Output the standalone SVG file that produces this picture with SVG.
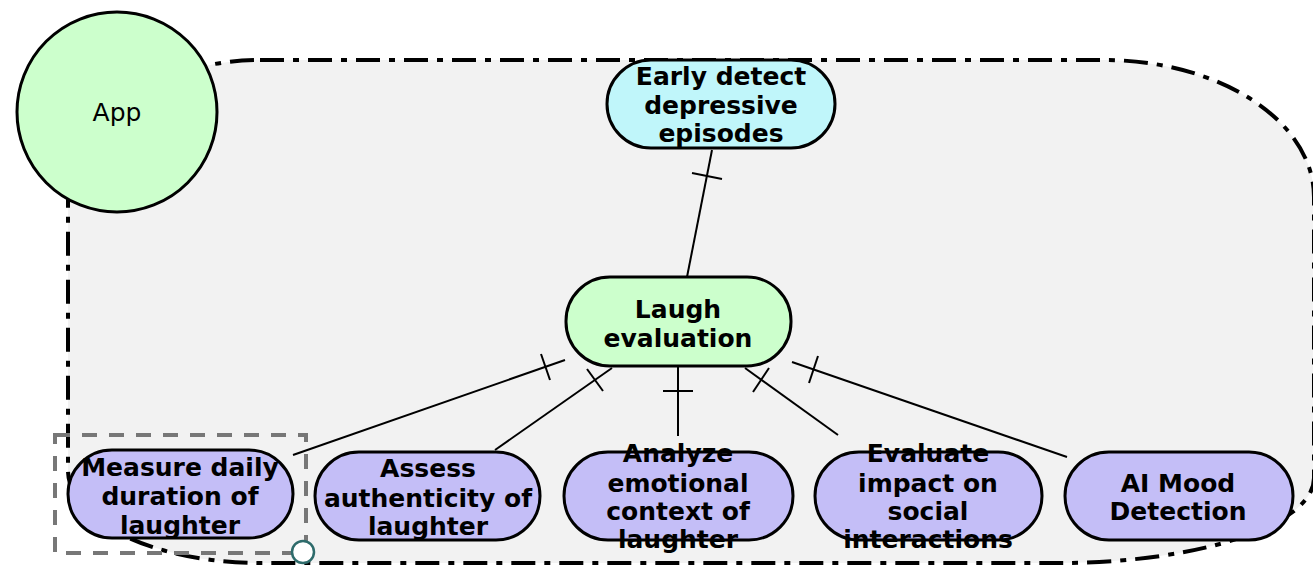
<svg xmlns="http://www.w3.org/2000/svg" width="1313" height="566" viewBox="0 0 1313 566">
<style>
.lbl{font-family:"DejaVu Sans",Verdana,sans-serif;font-weight:bold;font-size:25px;fill:#000;text-anchor:middle}
.node{stroke:#000;stroke-width:3}
.edge{stroke:#000;stroke-width:2;fill:none}
</style>
<rect width="1313" height="566" fill="#fff"/>
<g id="container">
<path d="M 260,60 H 1104 A 210 137 0 0 1 1314,197 V 478 A 255 85 0 0 1 1059,563 H 260 A 192 93 0 0 1 68,470 V 200 A 192 140 0 0 1 260,60 Z" fill="#f2f2f2" stroke="#000" stroke-width="4" stroke-dasharray="24 9 6 9"/>
</g>
<g id="app">
<circle cx="117" cy="112" r="100" fill="#ccffcc" stroke="#000" stroke-width="3"/>
<text x="117" y="121" font-family="DejaVu Sans,Verdana,sans-serif" font-size="25" text-anchor="middle" fill="#000">App</text>
</g>
<g id="connectors">
<line class="edge" x1="712" y1="150" x2="687" y2="277"/>
<line class="edge" x1="692" y1="173" x2="722" y2="179"/>
<line class="edge" x1="565" y1="360" x2="293" y2="455"/>
<line class="edge" x1="541" y1="354" x2="550" y2="380"/>
<line class="edge" x1="612" y1="368" x2="495" y2="450"/>
<line class="edge" x1="587" y1="369" x2="603" y2="391"/>
<line class="edge" x1="678" y1="367" x2="678" y2="436"/>
<line class="edge" x1="663" y1="391" x2="693" y2="391"/>
<line class="edge" x1="745" y1="368" x2="838" y2="435"/>
<line class="edge" x1="753" y1="392" x2="769" y2="368"/>
<line class="edge" x1="792" y1="362" x2="1067" y2="457"/>
<line class="edge" x1="809" y1="383" x2="818" y2="356"/>
</g>
<g id="early-detect">
<rect class="node" x="607" y="60" width="228" height="88" rx="44" fill="#c0f6fa"/>
<text class="lbl" x="721" y="85">Early detect</text>
<text class="lbl" x="721" y="114">depressive</text>
<text class="lbl" x="721" y="142">episodes</text>
</g>
<g id="laugh-evaluation">
<rect class="node" x="566" y="277" width="225" height="89" rx="44" fill="#ccffcc"/>
<text class="lbl" x="678" y="318">Laugh</text>
<text class="lbl" x="678" y="347">evaluation</text>
</g>
<g id="measure">
<rect class="node" x="68" y="450" width="225" height="88" rx="44" fill="#c4bef7"/>
<text class="lbl" x="180" y="476">Measure daily</text>
<text class="lbl" x="180" y="505">duration of</text>
<text class="lbl" x="180" y="534">laughter</text>
</g>
<g id="assess">
<rect class="node" x="315" y="452" width="225" height="88" rx="44" fill="#c4bef7"/>
<text class="lbl" x="428" y="477">Assess</text>
<text class="lbl" x="428" y="507">authenticity of</text>
<text class="lbl" x="428" y="535">laughter</text>
</g>
<g id="analyze">
<rect class="node" x="564" y="452" width="229" height="88" rx="44" fill="#c4bef7"/>
<text class="lbl" x="678" y="462">Analyze</text>
<text class="lbl" x="678" y="492">emotional</text>
<text class="lbl" x="678" y="520">context of</text>
<text class="lbl" x="678" y="548">laughter</text>
</g>
<g id="evaluate">
<rect class="node" x="815" y="452" width="227" height="88" rx="44" fill="#c4bef7"/>
<text class="lbl" x="928" y="462">Evaluate</text>
<text class="lbl" x="928" y="492">impact on</text>
<text class="lbl" x="928" y="520">social</text>
<text class="lbl" x="928" y="548">interactions</text>
</g>
<g id="ai-mood">
<rect class="node" x="1065" y="452" width="228" height="88" rx="44" fill="#c4bef7"/>
<text class="lbl" x="1178" y="492">AI Mood</text>
<text class="lbl" x="1178" y="520">Detection</text>
</g>
<g id="selection">
<rect x="55" y="435" width="251" height="118" fill="none" stroke="#777" stroke-width="4" stroke-dasharray="15 12"/>
<circle cx="303" cy="552" r="11" fill="#fff" stroke="#2e6b6b" stroke-width="2.5"/>
</g>
</svg>
